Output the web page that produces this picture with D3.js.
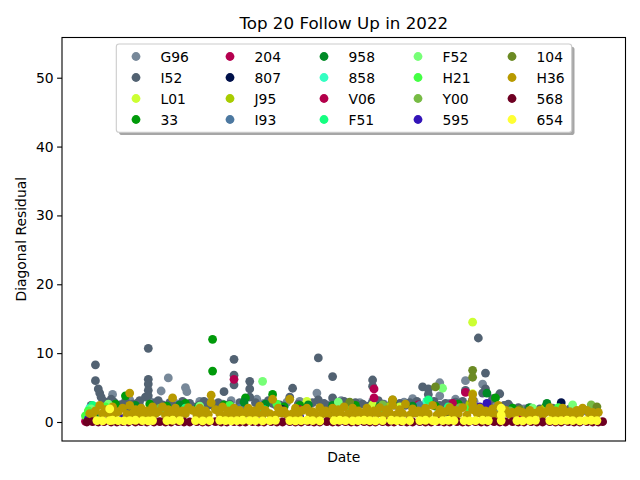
<!DOCTYPE html>
<html><head><meta charset="utf-8">
<script src="https://cdn.jsdelivr.net/npm/d3@7"></script>
<style>body{margin:0;background:#fff}svg{display:block;font-family:"DejaVu Sans",sans-serif}</style>
</head><body><svg id="c" width="640" height="480"></svg>
<script>
// ---- data (x = day of 2022, y = diagonal residual) ----
const seriesNames = ["G96","I52","L01","33","204","807","J95","I93","958","858","V06","F51","F52","H21","Y00","595","104","H36","568","654"];
const seriesColors = ["#778899","#526272","#ccff33","#009a0a","#b5004f","#00104a","#a8cc00","#4c78a0","#008a26","#33ffc2","#b3004a","#14ff80","#77ff77","#44ff44","#77bb44","#3314b8","#6b8a23","#b89a00","#6e0022","#ffff33"];
const yTicks = [0,10,20,30,40,50];

const dG96 = [[6,2.0],[20,4.0],[32,3.2],[39,2.4],[54,4.5],[59,6.4],[71,5.0],[72,4.4],[81,3.0],[97,2.6],[113,2.2],[121,3.3],[134,2.5],[151,3.0],[163,4.2],[172,2.5],[186,2.7],[202,3.0],[218,2.4],[230,3.4],[249,5.7],[249,3.8],[260,3.3],[267,6.0],[267,4.4],[279,5.5],[298,2.3],[308,1.9],[325,1.7],[351,1.6],
  [16,2.8],[27,2.6],[47,2.9],[64,2.7],[88,2.8],[103,3.1],[126,2.7],[142,2.9],[158,2.6],[180,3.1],[193,2.8],[210,2.6],[224,2.9],[240,3.0],[256,2.7],[273,3.0],[286,2.8]];
const dI52 = [[8,8.3],[8,6.0],[10,4.8],[11,4.2],[12,3.6],[14,3.0],[17,2.6],[21,2.9],[25,2.5],[29,3.0],[34,2.6],[39,3.1],[43,3.6],[45,10.7],[45,6.2],[45,5.5],[45,4.6],[45,3.8],[50,2.8],[55,2.5],[60,2.8],[66,2.4],[74,2.7],[81,2.5],[87,2.4],[94,2.8],[98,4.4],[102,2.6],[105,9.1],[105,6.8],[105,5.4],[109,2.8],[116,5.9],[116,4.8],[116,3.6],[120,2.8],[126,2.5],[132,2.7],[137,2.5],[146,4.9],[144,3.6],[150,2.6],[155,2.4],[164,9.3],[164,3.2],[168,2.7],[174,6.6],[174,3.5],[179,2.8],[185,2.5],[190,2.8],[195,2.6],[202,6.1],[202,5.2],[202,2.9],[209,2.6],[216,2.5],[221,2.7],[228,2.8],[237,5.1],[241,4.8],[241,4.0],[245,3.0],[253,2.7],[260,2.9],[265,3.0],[267,4.6],[276,12.2],[281,7.1],[281,4.8],[279,4.2],[286,3.4],[291,4.1],[297,2.6],[304,2.1],[311,2.0],[319,1.9],[328,2.0],[333,2.1],[340,1.9],
  [5,2.4],[19,3.3],[31,2.2],[37,2.7],[52,3.1],[63,2.3],[69,3.0],[78,2.2],[84,3.0],[91,2.3],[112,2.4],[129,3.1],[140,2.3],[160,2.8],[171,2.3],[182,3.0],[198,2.3],[206,3.1],[213,2.2],[225,2.4],[233,3.0],[249,2.4],[257,2.3],[270,2.5],[283,2.6],[294,2.4]];
const dL01 = [[272,14.5],[272,4.1],[202,2.5],[156,3.0],[17,2.0],[221,2.2],[305,1.5],[8,1.0]];
const d33 = [[90,12.0],[90,7.4],[29,3.8],[71,2.7],[113,3.5],[132,4.0],[151,2.4],[176,2.2],[216,3.0],[288,3.5],[323,2.2],[3,1.2],[6,0.6],[46,2.6],[246,2.3],[22,2.6],[58,2.3],[98,2.5],[140,2.2],[190,2.4],[262,2.6],[300,2.0]];
const d204 = [[105,6.2],[203,4.8],[203,3.5],[267,4.3],[258,2.7],[234,2.5],[3,0.3],[151,1.8],[305,0.8]];
const d807 = [[334,2.8],[137,1.9],[172,1.5],[139,1.8],[27,0.4],[256,1.2]];
const dJ95 = [[6,1.4],[102,1.8],[213,2.2],[270,2.6],[322,1.9]];
const dI93 = [[8,1.2],[109,2.0],[235,2.4],[291,2.0],[340,1.5]];
const d958 = [[4,1.8],[7,0.9],[67,2.5],[112,2.9],[127,2.6],[207,2.3],[282,4.2],[242,2.7],[324,2.7],[174,2.4],[2,0.8],[36,2.4],[80,2.2],[157,2.5],[230,2.3],[312,2.1]];
const d858 = [[4,2.0],[53,1.6],[151,1.4],[240,3.0],[305,1.7],[3,0.5]];
const dV06 = [[1,0.1],[4,0.4],[81,1.2],[186,1.5],[260,1.3],[334,1.2],[2,0.6]];
const dF51 = [[6,2.4],[241,3.2],[71,2.0],[126,1.8],[207,1.6],[255,2.2],[355,1.3],[3,1.0]];
const dF52 = [[125,5.9],[251,4.9],[178,2.9],[314,2.0],[342,2.5],[17,2.6],[81,2.3],[5,1.9]];
const dH21 = [[3,1.6],[15,2.2],[102,2.4],[135,2.6],[186,2.0],[270,1.9],[332,2.1],[1,0.9]];
const dY00 = [[355,2.5],[209,2.5],[53,2.0],[298,1.6],[263,2.1]];
const d595 = [[272,3.2],[282,2.7],[277,2.2],[27,0.5],[151,0.7],[3,0.4]];
const d104 = [[272,7.5],[272,6.5],[186,2.9],[216,3.2],[246,5.1],[359,2.2],[305,1.8],[116,1.7]];
const dH36 = [[4,1.2],[8,1.6],[11,2.4],[15,1.8],[20,2.2],[24,1.5],[27,2.0],[32,4.2],[32,2.4],[36,1.8],[40,2.0],[44,1.6],[48,2.2],[52,1.5],[55,2.2],[59,1.8],[62,3.5],[64,2.0],[69,1.6],[73,2.1],[76,1.7],[81,2.0],[85,1.6],[89,3.9],[89,2.8],[92,1.8],[97,2.2],[101,1.6],[105,2.0],[109,1.7],[115,2.0],[119,1.6],[123,2.3],[127,1.7],[132,3.3],[136,2.0],[140,1.6],[144,3.3],[148,2.0],[153,1.7],[156,2.0],[160,1.5],[165,2.1],[169,1.6],[174,2.0],[178,1.8],[182,2.2],[188,2.0],[192,1.6],[198,2.0],[203,1.6],[207,2.1],[212,1.8],[216,3.2],[216,2.4],[221,1.8],[225,2.6],[230,1.9],[234,1.6],[239,2.0],[244,2.4],[249,1.8],[253,1.5],[256,2.1],[260,1.7],[265,2.1],[272,4.0],[272,3.2],[272,2.5],[272,1.8],[277,2.0],[281,1.6],[286,1.9],[290,2.4],[295,1.7],[300,1.4],[304,1.6],[307,1.4],[312,1.7],[316,1.3],[319,1.7],[323,1.4],[326,2.1],[330,1.6],[335,2.0],[340,1.5],[345,1.7],[349,2.0],[352,1.7],[356,1.4],[360,1.4],
  [6,1.1],[13,1.2],[18,1.0],[22,1.3],[30,1.1],[34,1.2],[38,1.0],[42,1.3],[46,1.1],[50,1.2],[57,1.0],[61,1.3],[66,1.1],[71,1.2],[79,1.0],[83,1.3],[87,1.1],[95,1.2],[99,1.0],[103,1.3],[107,1.1],[112,1.2],[117,1.0],[121,1.3],[125,1.1],[130,1.2],[134,1.0],[138,1.3],[142,1.1],[146,1.2],[150,1.0],[158,1.3],[162,1.1],[167,1.2],[171,1.0],[176,1.3],[180,1.1],[185,1.2],[190,1.0],[195,1.3],[200,1.1],[205,1.2],[210,1.0],[214,1.3],[219,1.1],[223,1.2],[228,1.0],[232,1.3],[237,1.1],[241,1.2],[247,1.0],[251,1.3],[258,1.1],[262,1.2],[268,1.0],[275,1.3],[279,1.1],[284,1.2],[288,1.0],[293,1.3],[298,1.1],[302,1.2],[310,1.0],[314,1.2],[321,1.0],[328,1.2],[333,1.1],[338,1.2],[343,1.0],[347,1.2],[354,1.1],[358,1.0]];
const d568 = [[2,0.0],[6,0.05],[10,0.0],[14,0.05],[19,0.0],[23,0.0],[27,0.05],[31,0.0],[36,0.0],[40,0.05],[44,0.0],[49,0.0],[53,0.05],[57,0.0],[61,0.0],[66,0.05],[70,0.0],[74,0.0],[79,0.05],[83,0.0],[87,0.0],[92,0.05],[96,0.0],[100,0.0],[105,0.05],[109,0.0],[113,0.0],[118,0.05],[122,0.0],[126,0.0],[131,0.05],[135,0.0],[139,0.0],[144,0.05],[148,0.0],[152,0.0],[157,0.05],[161,0.0],[165,0.0],[170,0.05],[174,0.0],[178,0.0],[183,0.05],[187,0.0],[191,0.0],[196,0.05],[200,0.0],[204,0.0],[209,0.05],[213,0.0],[217,0.0],[222,0.05],[226,0.0],[230,0.0],[235,0.05],[239,0.0],[243,0.0],[248,0.05],[252,0.0],[256,0.0],[261,0.05],[265,0.0],[269,0.0],[274,0.05],[278,0.0],[282,0.0],[287,0.05],[291,0.0],[295,0.0],[300,0.05],[304,0.0],[308,0.0],[313,0.05],[317,0.0],[321,0.0],[326,0.05],[330,0.0],[334,0.0],[339,0.05],[343,0.0],[347,0.0],[352,0.05],[356,0.0],[360,0.0],[363,0.05]];
const d654 = [[9,0.2],[13,0.15],[18,1.9],[18,0.2],[20,0.25],[24,0.2],[28,0.15],[32,0.2],[36,0.25],[41,0.2],[45,0.15],[48,0.2],[58,0.2],[62,0.25],[67,0.2],[78,0.2],[83,0.15],[88,0.2],[95,0.25],[99,0.2],[103,0.15],[107,0.2],[111,0.25],[116,0.2],[120,0.2],[125,0.15],[130,0.2],[134,0.25],[144,0.2],[148,0.15],[152,0.2],[156,0.25],[160,0.2],[165,0.15],[175,0.2],[179,0.25],[183,0.2],[188,0.15],[192,0.2],[196,0.25],[200,0.2],[204,0.15],[209,0.2],[215,0.25],[219,0.2],[223,0.15],[228,0.2],[235,0.2],[239,0.25],[244,0.2],[246,0.15],[251,0.2],[255,0.25],[259,0.2],[266,0.2],[270,0.15],[274,0.2],[279,0.25],[283,0.2],[292,2.0],[292,1.0],[292,0.2],[303,0.2],[307,0.15],[312,0.2],[316,0.25],[326,0.2],[330,0.15],[334,0.2],[338,0.25],[342,0.2],[347,0.15],[351,0.2],[355,0.25],[359,0.2]];

const seriesData = [dG96,dI52,dL01,d33,d204,d807,dJ95,dI93,d958,d858,dV06,dF51,dF52,dH21,dY00,d595,d104,dH36,d568,d654];

// ---- drawing ----
const svg = d3.select("#c");
svg.append("rect").attr("width",640).attr("height",480).attr("fill","#fff");
const L=62, R=625.5, T=37.5, B=441;
const x = d3.scaleLinear().domain([-15.4,379]).range([L,R]);
const y = d3.scaleLinear().domain([-2.76,55.84]).range([B,T]);

const ptsG = svg.append("g");
seriesData.forEach((arr,i)=>{
  ptsG.append("g").selectAll("circle").data(arr).join("circle")
    .attr("cx",d=>x(d[0])).attr("cy",d=>y(d[1])).attr("r",4.4)
    .attr("fill",seriesColors[i]);
});

// axes
const yAxis = d3.axisLeft(y).tickValues(yTicks).tickSize(4.9).tickPadding(3.5);
const ga = svg.append("g").attr("transform",`translate(${L},0)`).call(yAxis);
ga.select(".domain").remove();
ga.selectAll("line").attr("stroke","#000").attr("stroke-width",1.1);
ga.selectAll("text").attr("font-size",13.9).attr("font-family","DejaVu Sans").attr("fill","#000");
svg.append("rect").attr("x",L).attr("y",T).attr("width",R-L).attr("height",B-T)
  .attr("fill","none").attr("stroke","#000").attr("stroke-width",1.1);

svg.append("text").attr("x",(L+R)/2).attr("y",29).attr("text-anchor","middle")
  .attr("font-size",16.7).text("Top 20 Follow Up in 2022");
svg.append("text").attr("x",(L+R)/2).attr("y",462).attr("text-anchor","middle")
  .attr("font-size",13.9).text("Date");
svg.append("text").attr("transform",`translate(26,${(T+B)/2}) rotate(-90)`).attr("text-anchor","middle")
  .attr("font-size",13.9).text("Diagonal Residual");

// legend
const lx=116.3, ly=44, lw=455.4, lh=88.3;
svg.append("rect").attr("x",lx+2.8).attr("y",ly+2.8).attr("width",lw).attr("height",lh).attr("rx",2.8)
  .attr("fill","#4d4d4d").attr("opacity",0.5);
svg.append("rect").attr("x",lx).attr("y",ly).attr("width",lw).attr("height",lh).attr("rx",2.8)
  .attr("fill","#fff").attr("stroke","#cccccc").attr("stroke-width",1.1);
const lg = svg.append("g");
seriesNames.forEach((n,i)=>{
  const col=Math.floor(i/4), row=i%4;
  const mx=136+col*94, my=56.5+row*21;
  lg.append("circle").attr("cx",mx).attr("cy",my).attr("r",4.4).attr("fill",seriesColors[i]);
  lg.append("text").attr("x",mx+24.5).attr("y",my+5).attr("font-size",13.9).text(n);
});
</script></body></html>
